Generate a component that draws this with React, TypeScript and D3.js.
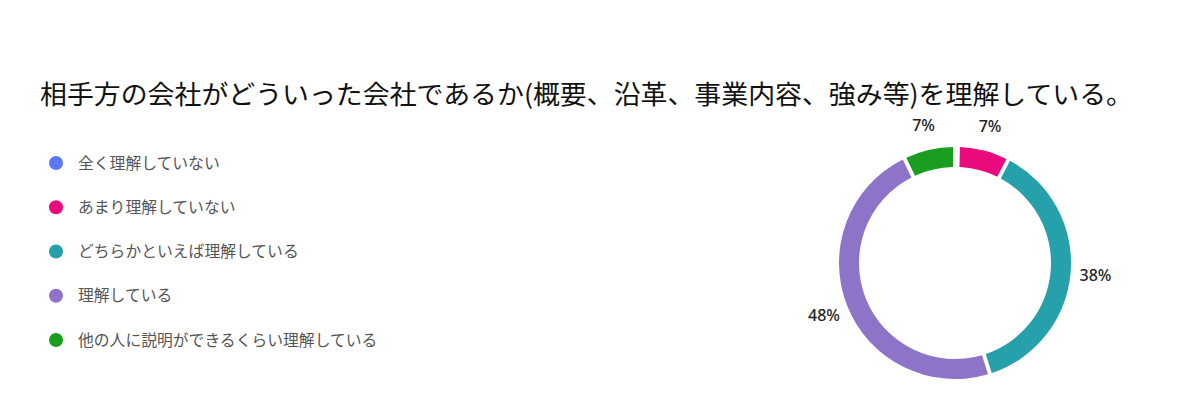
import { useEffect, useRef } from "react"
import * as d3 from "d3"

const title = "相手方の会社がどういった会社であるか(概要、沿革、事業内容、強み等)を理解している。"
const categories = [
  "全く理解していない",
  "あまり理解していない",
  "どちらかといえば理解している",
  "理解している",
  "他の人に説明ができるくらい理解している",
]
const counts = [0, 2, 11, 14, 2]
const colors = ["#5a78f5", "#ea0a7e", "#26a0aa", "#8e74c9", "#1b9e1f"]

type Slice = { name: string; value: number; color: string }

export default function App() {
  const svgRef = useRef<SVGSVGElement>(null)

  useEffect(() => {
    if (!svgRef.current) return
    const svg = d3.select(svgRef.current)
    svg.selectAll("*").remove()

    const width = 1200
    const height = 400
    svg.attr("width", width).attr("height", height)

    svg.append("rect").attr("width", width).attr("height", height).attr("fill", "#fff")

    // Title
    svg
      .append("text")
      .attr("x", 40)
      .attr("y", 104)
      .attr("font-family", "'Noto Sans CJK JP', sans-serif")
      .attr("font-size", 26)
      .attr("fill", "#111")
      .attr("textLength", 1093)
      .attr("lengthAdjust", "spacingAndGlyphs")
      .text(title)

    const data: Slice[] = categories.map((name, i) => ({ name, value: counts[i], color: colors[i] }))

    // Legend
    const ly = d3.scalePoint<string>().domain(categories).range([163, 340])
    const legend = svg
      .append("g")
      .selectAll("g")
      .data(data)
      .join("g")
      .attr("transform", (d) => `translate(56, ${ly(d.name)})`)
    legend.append("circle").attr("r", 7).attr("fill", (d) => d.color)
    legend
      .append("text")
      .attr("x", 22)
      .attr("dy", "0.36em")
      .attr("font-family", "'Noto Sans CJK JP', sans-serif")
      .attr("font-size", 15.8)
      .attr("fill", "#555")
      .text((d) => d.name)

    // Donut
    const total = d3.sum(counts)
    const pie = d3
      .pie<Slice>()
      .sort(null)
      .value((d) => d.value)
      .padAngle(0.026)
    const arcs = pie(data).filter((a) => a.data.value > 0)
    const arc = d3.arc<d3.PieArcDatum<Slice>>().innerRadius(96).outerRadius(116)
    const labelArc = d3.arc<d3.PieArcDatum<Slice>>().innerRadius(141).outerRadius(141)

    const g = svg.append("g").attr("transform", "translate(955, 263)")
    g.selectAll("path")
      .data(arcs)
      .join("path")
      .attr("d", arc)
      .attr("fill", (d) => d.data.color)

    g.selectAll("text")
      .data(arcs)
      .join("text")
      .attr("transform", (d) => `translate(${labelArc.centroid(d)})`)
      .attr("text-anchor", "middle")
      .attr("dy", "0.35em")
      .attr("font-family", "'Noto Sans', sans-serif")
      .attr("font-size", 16)
      .attr("font-weight", 500)
      .attr("fill", "#222")
      .text((d) => `${Math.round((d.data.value / total) * 100)}%`)
  }, [])

  return <svg ref={svgRef} style={{ position: "absolute", left: 0, top: 0 }}></svg>
}
